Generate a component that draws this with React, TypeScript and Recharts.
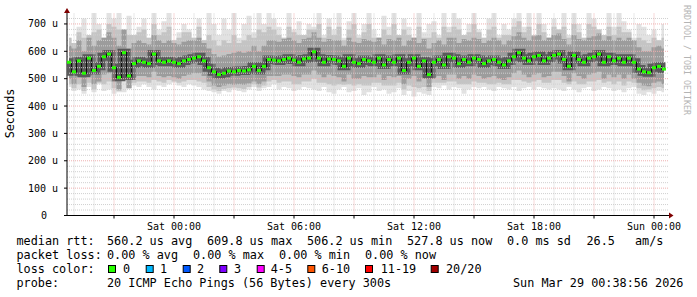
import React from 'react';
import { ComposedChart, Area, Line, XAxis, YAxis, ReferenceLine, ReferenceDot } from 'recharts';

// samples every 15 minutes, hours relative to Sat 00:00
const startHour = -5.25;
const stepHours = 0.25;

const median = [
  560, 525, 565, 520, 575, 530, 545, 580, 590, 540, 505, 595, 510, 555, 565, 560, 555, 590, 565, 560, 565, 560, 555, 565,
  570, 575, 580, 565, 540, 525, 515, 520, 528, 525, 530, 528, 532, 545, 530, 545, 570, 568, 565, 570, 575, 568, 560, 572, 575,
  598, 575, 560, 572, 570, 565, 545, 575, 560, 555, 570, 565, 560, 575, 550, 570, 560, 575, 530, 560, 575, 545, 565, 515,
  560, 570, 550, 580, 575, 555, 570, 560, 575, 570, 555, 565, 570, 560, 550, 565, 580, 595, 575, 565, 580, 585, 565, 575,
  585, 590, 570, 545, 585, 570, 560, 575, 580, 590, 560, 580, 565, 575, 560, 575, 560, 535, 525, 522, 540, 545, 535,
];

// lightest smoke: extreme pings
const outerHi = [
  650, 630, 690, 720, 660, 740, 700, 650, 740, 720, 740, 680, 730, 660, 690, 720, 650, 740, 680, 710, 740, 640, 670, 700,
  680, 650, 720, 640, 740, 700, 660, 720, 680, 740, 650, 700, 730, 670, 740, 700, 740, 720, 690, 650, 740, 680, 710, 660, 700,
  690, 740, 660, 720, 680, 740, 650, 710, 740, 660, 700, 740, 680, 650, 730, 690, 740, 660, 720, 690, 650, 740, 670, 700,
  710, 660, 740, 690, 740, 720, 660, 700, 740, 680, 650, 720, 740, 660, 700, 680, 720, 740, 690, 740, 660, 740, 700, 650,
  720, 680, 740, 660, 740, 700, 650, 740, 720, 680, 660, 740, 690, 740, 710, 680, 650, 700, 690, 660, 680, 640, 700,
];

const outerLo = [
  470, 455, 460, 445, 470, 450, 480, 455, 460, 445, 450, 450, 465, 475, 470, 480, 470, 460, 475, 470, 480, 485, 475, 470,
  480, 475, 470, 460, 455, 450, 445, 455, 450, 460, 455, 450, 460, 470, 455, 465, 470, 480, 460, 470, 465, 455, 460, 470, 465,
  460, 455, 470, 450, 445, 460, 470, 450, 455, 465, 440, 450, 470, 455, 460, 445, 450, 465, 440, 455, 435, 450, 445, 440,
  470, 465, 475, 460, 470, 465, 445, 460, 470, 465, 470, 460, 455, 470, 465, 460, 470, 455, 465, 470, 460, 470, 465, 460,
  465, 460, 455, 470, 460, 450, 465, 470, 455, 460, 470, 465, 455, 460, 450, 465, 470, 445, 440, 450, 445, 455, 450,
];

// middle smoke
const midHi = [
  650, 630, 670, 650, 660, 670, 680, 650, 700, 690, 680, 680, 660, 660, 670, 680, 650, 700, 660, 670, 690, 640, 650, 670,
  670, 650, 690, 640, 660, 640, 620, 640, 630, 660, 630, 640, 660, 650, 680, 670, 690, 680, 660, 650, 690, 670, 660, 660, 680,
  680, 700, 650, 690, 660, 690, 640, 680, 700, 650, 670, 700, 650, 650, 680, 660, 700, 660, 680, 660, 650, 690, 650, 650,
  670, 650, 690, 670, 690, 680, 660, 670, 700, 670, 650, 680, 690, 650, 660, 660, 690, 710, 670, 690, 660, 700, 670, 650,
  690, 680, 690, 650, 700, 670, 650, 700, 690, 680, 660, 690, 660, 690, 670, 670, 640, 650, 640, 630, 650, 640, 650,
];

const midLo = [
  480, 465, 480, 455, 485, 460, 485, 480, 490, 465, 455, 495, 465, 485, 490, 490, 485, 495, 490, 485, 495, 490, 485, 490,
  495, 495, 490, 485, 470, 460, 455, 462, 465, 468, 465, 462, 470, 480, 468, 475, 490, 495, 485, 490, 490, 480, 480, 490, 490,
  500, 485, 485, 480, 475, 480, 478, 480, 475, 480, 475, 475, 485, 485, 475, 475, 475, 485, 460, 475, 470, 465, 470, 455,
  485, 485, 485, 490, 490, 480, 480, 480, 490, 485, 485, 480, 480, 485, 480, 480, 495, 495, 490, 485, 490, 495, 485, 485,
  495, 495, 485, 480, 490, 480, 480, 490, 490, 495, 485, 490, 480, 490, 475, 490, 485, 465, 458, 460, 465, 470, 465,
];

// darkest smoke around the median
const innerHi = [
  620, 610, 640, 600, 650, 620, 640, 650, 670, 650, 620, 680, 610, 630, 640, 630, 625, 660, 640, 630, 640, 630, 625, 635,
  640, 640, 650, 630, 610, 590, 580, 585, 590, 595, 600, 595, 600, 620, 600, 620, 640, 640, 635, 645, 650, 640, 630, 645, 650,
  670, 650, 635, 645, 640, 640, 620, 650, 635, 630, 645, 640, 635, 650, 625, 645, 640, 650, 620, 640, 650, 630, 645, 610,
  630, 640, 625, 650, 650, 630, 645, 640, 650, 645, 630, 640, 650, 640, 625, 640, 655, 670, 650, 640, 655, 660, 640, 650,
  660, 665, 645, 625, 660, 645, 640, 650, 655, 665, 640, 655, 640, 650, 640, 650, 640, 615, 600, 600, 615, 620, 610,
];

const innerLo = [
  500, 480, 505, 470, 510, 480, 490, 515, 520, 490, 460, 530, 465, 505, 510, 510, 505, 525, 510, 505, 510, 505, 500, 510,
  515, 520, 520, 510, 490, 475, 470, 475, 480, 478, 480, 478, 482, 490, 480, 490, 510, 510, 510, 515, 515, 510, 505, 515, 515,
  530, 515, 505, 515, 510, 505, 490, 515, 500, 500, 510, 505, 505, 515, 495, 510, 505, 510, 480, 500, 510, 490, 505, 470,
  505, 510, 495, 515, 515, 500, 510, 500, 515, 510, 500, 505, 510, 500, 495, 505, 520, 530, 515, 505, 515, 520, 505, 510,
  525, 525, 510, 490, 520, 510, 500, 515, 520, 525, 500, 515, 505, 515, 500, 515, 500, 485, 475, 472, 485, 490, 480,
];

const yTicks = [0, 100, 200, 300, 400, 500, 600, 700];
const tickHours = [0, 6, 12, 18, 24];
const tickLabels = ['Sat 00:00', 'Sat 06:00', 'Sat 12:00', 'Sat 18:00', 'Sun 00:00'];

const lossLabels = ['0', '1', '2', '3', '4-5', '6-10', '11-19', '20/20'];
const lossColors = ['#26ff00', '#00b8ff', '#0059ff', '#7e00ff', '#ff00ff', '#ff5500', '#ff0000', '#a10000'];

const xDomain = [-5.35, 24.75];
const yMax = 740;

const data = median.map((m, i) => ({
  t: startHour + i * stepHours,
  median: m,
  outer: [outerLo[i], outerHi[i]],
  mid: [midLo[i], midHi[i]],
  inner: [innerLo[i], innerHi[i]],
}));

const majorHours: number[] = [];
const minorHours: number[] = [];
for (let h = -5; h <= 24; h++) (h % 3 === 0 ? majorHours : minorHours).push(h);
const majorVals: number[] = [];
const minorVals: number[] = [];
for (let v = 20; v <= 720; v += 20) (v % 100 === 0 ? majorVals : minorVals).push(v);

const MONO = '"DejaVu Sans Mono", monospace';
const GRID = '#d0d0d0';
const MGRID = '#eeb0b0';
const ARROW = '#7f0000';

const YTick = ({ x, y, payload }: any) => {
  const v = payload.value;
  return (
    <text x={v === 0 ? x - 11 : x} y={y} dy={3.5} textAnchor="end" fontFamily={MONO} fontSize={10} fill="#000">
      {v === 0 ? '0' : `${v} u`}
    </text>
  );
};

const XTick = ({ x, y, payload }: any) => {
  const i = tickHours.indexOf(payload.value);
  if (i < 0) return <g />;
  return (
    <text x={x} y={y} dy={9} textAnchor="middle" fontFamily={MONO} fontSize={10} fill="#000">
      {tickLabels[i]}
    </text>
  );
};

const MedianDot = (p: any) => (
  <rect key={p.index} x={p.cx - 2} y={p.cy - 1.5} width={4} height={3} fill={lossColors[0]} />
);

const rows = [
  { y: 245, parts: [[16.5, 'median rtt:'], [107, '560.2 us avg'], [207, '609.8 us max'], [307, '506.2 us min'], [407, '527.8 us now'], [507, '0.0 ms sd'], [586.5, '26.5'], [635, 'am/s']] },
  { y: 259, parts: [[16.5, 'packet loss:'], [107, '0.00 % avg'], [193, '0.00 % max'], [279, '0.00 % min'], [365, '0.00 % now']] },
  { y: 272.7, parts: [[16.5, 'loss color:']] },
  { y: 286.7, parts: [[16.5, 'probe:'], [107, '20 ICMP Echo Pings (56 Bytes) every 300s'], [513, 'Sun Mar 29 00:38:56 2026']] },
];
const boxX = [108, 145.7, 182.7, 219.3, 256.7, 307.3, 365, 430.7];
const boxLabelX = [123, 160, 197, 234, 270.7, 321.7, 380.7, 446];

export default function App() {
  return (
    <div style={{ position: 'relative', width: 697, height: 297, background: '#fff' }}>
      <style>{'body{margin:0}'}</style>
      <ComposedChart width={697} height={240} data={data} margin={{ top: 13, right: 28, bottom: 0, left: 0 }}>
        <XAxis
          dataKey="t"
          type="number"
          domain={xDomain}
          ticks={majorHours}
          interval={0}
          height={24.5}
          tick={<XTick />}
          tickSize={3}
          tickLine={{ stroke: '#000' }}
          axisLine={{ stroke: '#000' }}
        />
        <YAxis
          type="number"
          domain={[0, yMax]}
          ticks={yTicks}
          interval={0}
          width={67}
          tick={<YTick />}
          tickSize={3}
          tickMargin={6}
          tickLine={{ stroke: '#000' }}
          axisLine={{ stroke: '#000' }}
        />
        <Area dataKey="outer" type="step" fill="#e2e2e2" fillOpacity={1} stroke="none" isAnimationActive={false} />
        <Area dataKey="mid" type="step" fill="#c4c4c4" fillOpacity={1} stroke="none" isAnimationActive={false} />
        <Area dataKey="inner" type="step" fill="#9c9c9c" fillOpacity={1} stroke="none" isAnimationActive={false} />
        <Line dataKey="median" type="step" stroke="#5a5a5a" strokeWidth={8} dot={false} isAnimationActive={false} />
        <Line dataKey="median" type="step" stroke="#111" strokeWidth={1.2} dot={<MedianDot />} isAnimationActive={false} />
        {minorHours.map((h) => (
          <ReferenceLine key={'mx' + h} x={h} stroke={GRID} strokeDasharray="1 1" />
        ))}
        {minorVals.map((v) => (
          <ReferenceLine key={'my' + v} y={v} stroke={GRID} strokeDasharray="1 1" />
        ))}
        {majorHours.map((h) => (
          <ReferenceLine key={'Mx' + h} x={h} stroke={MGRID} strokeDasharray="1 1" />
        ))}
        {majorVals.map((v) => (
          <ReferenceLine key={'My' + v} y={v} stroke={MGRID} strokeDasharray="1 1" />
        ))}
        <ReferenceDot
          x={xDomain[1]}
          y={0}
          ifOverflow="visible"
          shape={(p: any) => <polygon points={`${p.cx},${p.cy - 3} ${p.cx + 4.5},${p.cy} ${p.cx},${p.cy + 3}`} fill={ARROW} />}
        />
        <ReferenceDot
          x={xDomain[0]}
          y={yMax}
          ifOverflow="visible"
          shape={(p: any) => <polygon points={`${p.cx - 3},${p.cy} ${p.cx},${p.cy - 5} ${p.cx + 3},${p.cy}`} fill={ARROW} />}
        />
      </ComposedChart>
      <svg width={697} height={297} style={{ position: 'absolute', left: 0, top: 0, pointerEvents: 'none' }}>
        <text
          transform="translate(14,113.5) rotate(-90)"
          textAnchor="middle"
          fontFamily={MONO}
          fontSize={11.8}
          fill="#000"
        >
          Seconds
        </text>
        <text
          transform="translate(684,5) rotate(90)"
          fontFamily={MONO}
          fontSize={8.3}
          fill="#b4b4b4"
        >
          RRDTOOL / TOBI OETIKER
        </text>
        {rows.map((r, ri) =>
          r.parts.map(([x, s], pi) => (
            <text key={ri + '-' + pi} x={x as number} y={r.y} fontFamily={MONO} fontSize={11.8} fill="#000">
              {s}
            </text>
          ))
        )}
        {lossLabels.map((l, i) => (
          <g key={l}>
            <rect x={boxX[i] + 0.5} y={265.5} width={7} height={7} fill={lossColors[i]} stroke="#000" />
            <text x={boxLabelX[i]} y={272.7} fontFamily={MONO} fontSize={11.8} fill="#000">
              {l}
            </text>
          </g>
        ))}
      </svg>
    </div>
  );
}
